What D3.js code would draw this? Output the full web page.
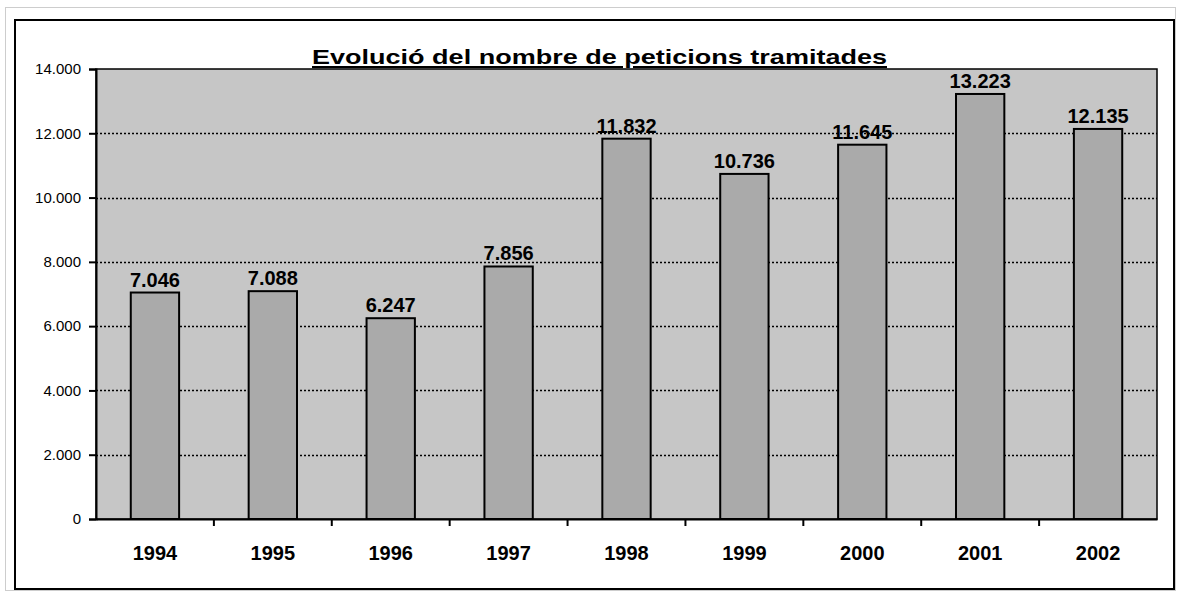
<!DOCTYPE html>
<html>
<head>
<meta charset="utf-8">
<script src="https://cdn.jsdelivr.net/npm/d3@7"></script>
<style>
  html, body { margin: 0; padding: 0; background: #ffffff; }
  svg { display: block; }
</style>
</head>
<body>
<script>
// ---- data ----
const years = ["1994", "1995", "1996", "1997", "1998", "1999", "2000", "2001", "2002"];
const peticions = [7046, 7088, 6247, 7856, 11832, 10736, 11645, 13223, 12135];
const yTicks = [0, 2000, 4000, 6000, 8000, 10000, 12000, 14000];
const titleText = "Evolució del nombre de peticions tramitades";

// ---- layout ----
const W = 1177, H = 592;
const plot = { left: 96, right: 1157, top: 69, bottom: 519 };

const fmt = v => d3.format(",")(v).replace(/,/g, ".");

const svg = d3.select("body").append("svg")
  .attr("width", W).attr("height", H);

// outer dotted border
svg.append("rect")
  .attr("x", 5.5).attr("y", 7.5).attr("width", 1170).attr("height", 583)
  .attr("fill", "none").attr("stroke", "#9a9a9a").attr("stroke-width", 1)
  .attr("stroke-dasharray", "1,1");

// chart frame
svg.append("rect")
  .attr("x", 15).attr("y", 20).attr("width", 1159).attr("height", 569)
  .attr("fill", "#ffffff").attr("stroke", "#000").attr("stroke-width", 2);

const x = d3.scaleBand().domain(years).range([plot.left, plot.right]).paddingInner(0.59).paddingOuter(0.295);
const xb = d3.scaleBand().domain(years).range([plot.left, plot.right]);
const y = d3.scaleLinear().domain([0, 14000]).range([plot.bottom, plot.top]);

// plot background
svg.append("rect")
  .attr("x", plot.left).attr("y", plot.top)
  .attr("width", plot.right - plot.left).attr("height", plot.bottom - plot.top)
  .attr("fill", "#c6c6c6").attr("stroke", "#000").attr("stroke-width", 1.5);

// gridlines
svg.append("g").selectAll("line")
  .data(yTicks.filter(t => t > 0 && t < 14000))
  .join("line")
  .attr("x1", plot.left).attr("x2", plot.right)
  .attr("y1", d => Math.round(y(d)) + 0.5).attr("y2", d => Math.round(y(d)) + 0.5)
  .attr("stroke", "#000").attr("stroke-width", 1.3).attr("stroke-dasharray", "2,2");

// bars
svg.append("g").selectAll("rect")
  .data(years.map((yr, i) => ({ yr, v: peticions[i] })))
  .join("rect")
  .attr("x", d => x(d.yr))
  .attr("y", d => y(d.v))
  .attr("width", x.bandwidth())
  .attr("height", d => y(0) - y(d.v))
  .attr("fill", "#aaaaaa").attr("stroke", "#000").attr("stroke-width", 2);

// value labels
svg.append("g").selectAll("text")
  .data(years.map((yr, i) => ({ yr, v: peticions[i] })))
  .join("text")
  .attr("x", d => x(d.yr) + x.bandwidth() / 2)
  .attr("y", d => y(d.v) - 6)
  .attr("text-anchor", "middle")
  .attr("font-family", "Liberation Sans, Arial, sans-serif")
  .attr("font-weight", "bold").attr("font-size", 20)
  .attr("fill", "#000")
  .text(d => fmt(d.v));

// y axis
const yAxis = d3.axisLeft(y).tickValues(yTicks).tickFormat(fmt).tickSize(7).tickPadding(8);
const gy = svg.append("g").attr("transform", `translate(${plot.left},0)`).call(yAxis);
gy.select(".domain").attr("stroke", "#000").attr("stroke-width", 2);
gy.selectAll(".tick line").attr("stroke", "#000").attr("stroke-width", 2);
gy.selectAll(".tick text")
  .attr("font-family", "Liberation Sans, Arial, sans-serif")
  .attr("font-size", 15).attr("fill", "#000");

// x axis
const xAxis = d3.axisBottom(xb).tickSize(0).tickPadding(0);
const gx = svg.append("g").attr("transform", `translate(0,${plot.bottom})`).call(xAxis);
gx.select(".domain").attr("stroke", "#000").attr("stroke-width", 2);
gx.selectAll(".tick text")
  .attr("y", 41).attr("dy", 0)
  .attr("font-family", "Liberation Sans, Arial, sans-serif")
  .attr("font-weight", "bold").attr("font-size", 20).attr("fill", "#000");
// category separator ticks
svg.append("g").selectAll("line")
  .data(years.slice(1))
  .join("line")
  .attr("x1", d => xb(d)).attr("x2", d => xb(d))
  .attr("y1", plot.bottom).attr("y2", plot.bottom + 7)
  .attr("stroke", "#000").attr("stroke-width", 2);

// title
svg.append("text")
  .attr("x", 312).attr("y", 64)
  .attr("textLength", 575).attr("lengthAdjust", "spacingAndGlyphs")
  .attr("font-family", "Liberation Sans, Arial, sans-serif")
  .attr("font-weight", "bold").attr("font-size", 21)
  .attr("text-decoration", "underline")
  .attr("fill", "#000")
  .text(titleText);
</script>
</body>
</html>
